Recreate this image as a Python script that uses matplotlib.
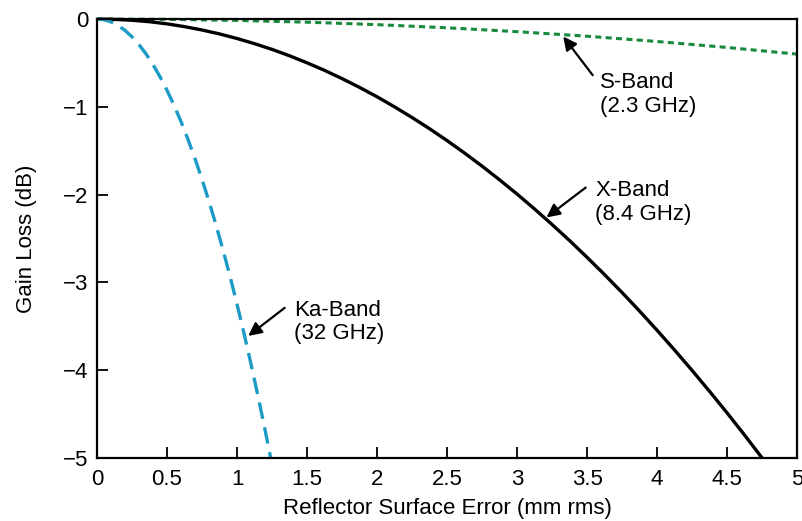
import matplotlib
matplotlib.use("Agg")
import matplotlib.pyplot as plt

plt.rcParams['font.family'] = ['Liberation Sans', 'DejaVu Sans']

# Surface error (mm rms) and gain loss (dB)
x_x = [0, 0.125, 0.25, 0.375, 0.5, 0.625, 0.75, 0.875, 1.0, 1.125, 1.25, 1.375,
       1.5, 1.625, 1.75, 1.875, 2.0, 2.125, 2.25, 2.375, 2.5, 2.625, 2.75, 2.875,
       3.0, 3.125, 3.25, 3.375, 3.5, 3.625, 3.75, 3.875, 4.0, 4.125, 4.25, 4.375,
       4.5, 4.625, 4.75]
x_band = [0, -0.004, -0.014, -0.031, -0.055, -0.087, -0.125, -0.170, -0.222,
          -0.281, -0.346, -0.419, -0.499, -0.585, -0.679, -0.779, -0.886, -1.001,
          -1.122, -1.250, -1.385, -1.527, -1.676, -1.832, -1.994, -2.164, -2.341,
          -2.524, -2.715, -2.912, -3.116, -3.327, -3.546, -3.771, -4.003, -4.242,
          -4.487, -4.740, -5.000]

ka_x = [0, 0.05, 0.1, 0.15, 0.2, 0.25, 0.3, 0.35, 0.4, 0.45, 0.5, 0.55, 0.6,
        0.65, 0.7, 0.75, 0.8, 0.85, 0.9, 0.95, 1.0, 1.05, 1.1, 1.15, 1.2, 1.24]
ka_band = [0, -0.008, -0.033, -0.073, -0.130, -0.203, -0.293, -0.398, -0.520,
           -0.658, -0.813, -0.983, -1.170, -1.373, -1.593, -1.828, -2.080,
           -2.348, -2.633, -2.933, -3.250, -3.583, -3.933, -4.298, -4.680, -5.000]

s_x = [0, 0.5, 1.0, 1.5, 2.0, 2.5, 3.0, 3.5, 4.0, 4.5, 5.0]
s_band = [0, -0.004, -0.016, -0.036, -0.064, -0.10, -0.144, -0.196, -0.256,
          -0.324, -0.40]

x_ticks = [0, 0.5, 1, 1.5, 2, 2.5, 3, 3.5, 4, 4.5, 5]
x_ticklabels = ['0', '0.5', '1', '1.5', '2', '2.5', '3', '3.5', '4', '4.5', '5']
y_ticks = [0, -1, -2, -3, -4, -5]
y_ticklabels = ['0', '\u22121', '\u22122', '\u22123', '\u22124', '\u22125']

labels = ['S-Band\n(2.3 GHz)', 'X-Band\n(8.4 GHz)', 'Ka-Band\n(32 GHz)']
arrow_tips = [(3.33, -0.20), (3.21, -2.26), (1.08, -3.61)]
arrow_tails = [(3.54, -0.64), (3.49, -1.92), (1.34, -3.29)]
text_pos = [(3.59, -0.86), (3.56, -2.09), (1.41, -3.45)]

fig = plt.figure(figsize=(8.02, 5.21), dpi=100)
ax = fig.add_axes([0.121, 0.121, 0.8729, 0.8425])

ax.plot(s_x, s_band, color='#178a3c', lw=2.2, dashes=(2.0, 1.4), clip_on=False)
ax.plot(x_x, x_band, color='black', lw=2.4, solid_capstyle='butt', clip_on=False)
ax.plot(ka_x, ka_band, color='#1b9bc6', lw=2.4, dashes=(5.0, 2.6), clip_on=False)

ax.set_xlim(0, 5)
ax.set_ylim(-5, 0)
ax.set_xticks(x_ticks)
ax.set_xticklabels(x_ticklabels)
ax.set_yticks(y_ticks)
ax.set_yticklabels(y_ticklabels)
ax.tick_params(direction='in', length=8, width=1.3, labelsize=16)
ax.tick_params(axis='x', pad=8)
ax.tick_params(axis='y', pad=6)
for sp in ax.spines.values():
    sp.set_linewidth(1.6)

ax.set_xlabel('Reflector Surface Error (mm rms)', fontsize=16, labelpad=6)
ax.set_ylabel('Gain Loss (dB)', fontsize=16, labelpad=19)

for lab, tip, tail, tp in zip(labels, arrow_tips, arrow_tails, text_pos):
    ax.annotate('', xy=tip, xytext=tail,
                arrowprops=dict(arrowstyle='-|>', color='black', lw=1.6,
                                mutation_scale=20, shrinkA=0, shrinkB=0))
    ax.text(tp[0], tp[1], lab, ha='left', va='center', fontsize=16,
            linespacing=1.15)

fig.savefig('out.png', dpi=100)
